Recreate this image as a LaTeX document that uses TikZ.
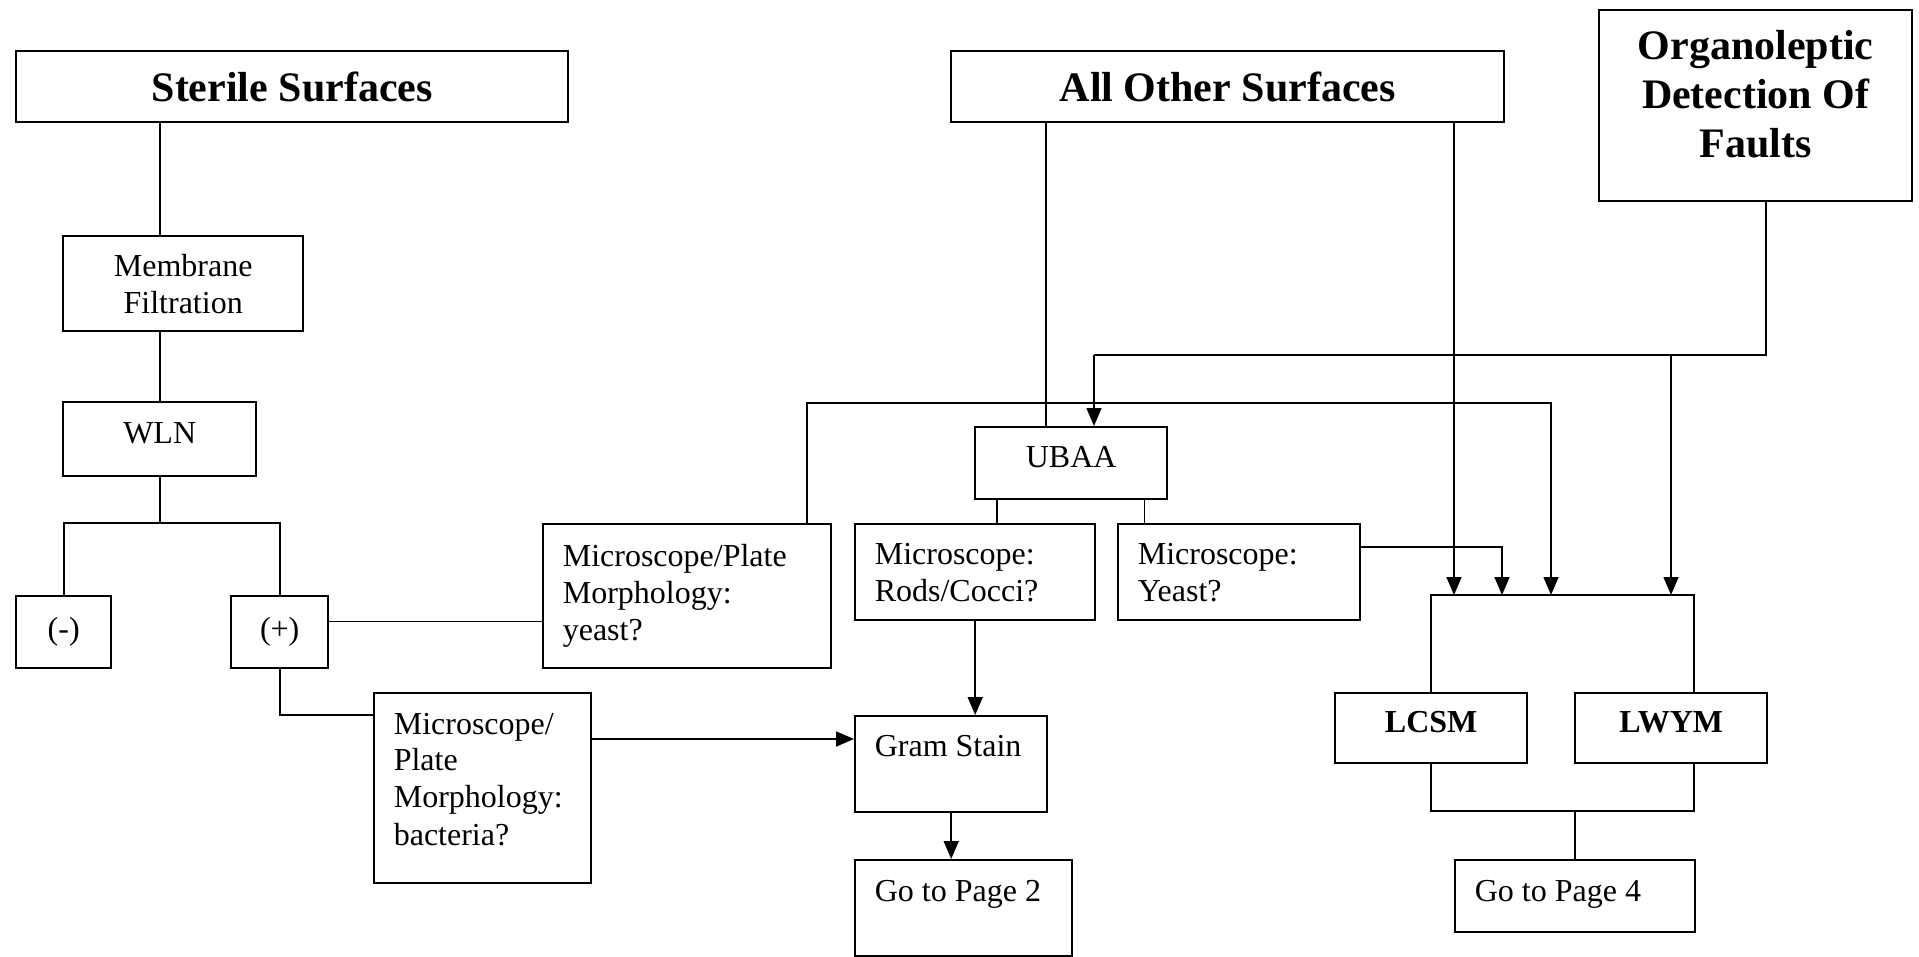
\documentclass[tikz,border=0pt]{standalone}
\usepackage{fontspec}
\setmainfont{Liberation Serif}
\usetikzlibrary{arrows.meta,positioning,calc}

\newcommand{\bodysize}{\fontsize{32}{37}\selectfont}
\newcommand{\headsize}{\fontsize{42}{49}\selectfont\bfseries}

\begin{document}
\begin{tikzpicture}[x=1pt,y=-1pt,line width=1.6pt,>={Triangle[length=18pt,width=15pt]},
	box/.style={rectangle,draw,line width=2.4pt,anchor=north west,inner sep=0pt,font=\bodysize},
	headbox/.style={box,font=\headsize},
	raised/.style={text depth=12pt},
	txt/.style={anchor=north west,align=left,inner xsep=20pt,inner ysep=20pt,font=\bodysize}]
		\useasboundingbox (0,0) rectangle (1919,956);
		\node (sterile) [headbox,minimum width=552pt,minimum height=71pt] at (15,50) {Sterile Surfaces};
		\node (other) [headbox,minimum width=553pt,minimum height=71pt] at (950,50) {All Other Surfaces};
		\node (organo) [box,minimum width=313pt,minimum height=191pt] at (1598,9) {};
		\node (organotext) [anchor=north,align=center,font=\headsize,inner ysep=21pt] at (organo.north) {Organoleptic\\Detection Of\\Faults};
		\node (membrane) [box,align=center,minimum width=240pt,minimum height=95pt] at (62,235) {Membrane\\Filtration};
		\node (wln) [box,raised,minimum width=193pt,minimum height=74pt] at (62,401) {WLN};
		\node (neg) [box,minimum width=95pt,minimum height=72pt] at (15,595) {(-)};
		\node (pos) [box,minimum width=97pt,minimum height=72pt] at (230,595) {(+)};
		\node (ym) [box,minimum width=288pt,minimum height=144pt] at (542,523) {};
		\node (ymtext) [txt] at (ym.north west) {Microscope/Plate\\Morphology:\\yeast?};
		\node (bact) [box,minimum width=217pt,minimum height=190pt] at (373,692) {};
		\node (bacttext) [txt] at (bact.north west) {Microscope/\\Plate\\Morphology:\\bacteria?};
		\node (ubaa) [box,raised,minimum width=192pt,minimum height=72pt] at (974,426) {UBAA};
		\node (rods) [box,minimum width=240pt,minimum height=96pt] at (854,523) {};
		\node (rodstext) [txt] at (rods.north west) {Microscope:\\Rods/Cocci?};
		\node (yeast) [box,minimum width=242pt,minimum height=96pt] at (1117,523) {};
		\node (yeasttext) [txt] at (yeast.north west) {Microscope:\\Yeast?};
		\node (gram) [box,minimum width=192pt,minimum height=96pt] at (854,715) {};
		\node (gramtext) [txt] at (gram.north west) {Gram Stain};
		\node (page2) [box,minimum width=217pt,minimum height=96pt] at (854,859) {};
		\node (page2text) [txt] at (page2.north west) {Go to Page 2};
		\node (lcsm) [box,raised,font=\bodysize\bfseries,minimum width=192pt,minimum height=70pt] at (1334,692) {LCSM};
		\node (lwym) [box,raised,font=\bodysize\bfseries,minimum width=192pt,minimum height=70pt] at (1574,692) {LWYM};
		\node (page4) [box,minimum width=240pt,minimum height=72pt] at (1454,859) {};
		\node (page4text) [txt] at (page4.north west) {Go to Page 4};
		% bends and joins
		\coordinate (gramin) at ([yshift=-24pt]gram.north west);
		\coordinate (ubaaL) at ([xshift=23pt]ubaa.south west);
		\coordinate (ubaaR) at ([xshift=-24pt]ubaa.south east);
		\coordinate (othL) at ([xshift=96pt]other.south west);
		\coordinate (orgL) at (1094,355);
		\coordinate (orgR) at (1766,355);
		\coordinate (orgB) at (1671,355);
		\coordinate (ymup) at (807,403);
		\coordinate (ymR) at (1551,403);
		\coordinate (yqR) at (1502,547);
		\coordinate (jtop) at (0,595);
		\coordinate (jbot) at (0,811);
		\coordinate (jtl) at (lcsm.north |- jtop);
		\coordinate (jtr) at (1694,595);
		\coordinate (jbl) at (lcsm.south |- jbot);
		\coordinate (jbr) at (1694,811);
		% sterile side
		\draw (sterile.south -| wln.north) -- (membrane.north -| wln.north);
		\draw (membrane.south -| wln.north) -- (wln.north);
		\draw (wln.south) -- (wln.south |- ym.north);
		\draw (neg.north) |- (pos.north |- ym.north) -- (pos.north);
		\draw (pos.east |- rods.south) -- (ym.west |- rods.south);
		\draw (pos.south) |- (bact.west |- gram.north);
		\path (bact.east |- gramin) edge[->] (gramin);
		\path (rods.south) edge[->] (rods.south |- gram.north);
		\path (gram.south) edge[->] (gram.south |- page2.north);
		% other surfaces
		\draw (othL) -- (othL |- ubaa.north);
		\draw (ubaaL) -- (ubaaL |- rods.north);
		\draw (ubaaR) -- (ubaaR |- yeast.north);
		\draw [->] (other.south -| page4.west) -- (page4.west |- jtl);
		\draw (organo.south -| orgR) -- (orgR) -- (orgL);
		\draw [->] (orgL) -- (orgL |- ubaa.north);
		\draw [->] (orgB) -- (orgB |- jtl);
		\draw [->] (ym.north -| ymup) -- (ymup) -- (ymR) -- (ymR |- jtl);
		\draw [->] (yeast.east |- yqR) -- (yqR) -- (yqR |- jtl);
		% media boxes
		\draw (lcsm.north) -- (jtl) -- (jtr) -- (jtr |- lwym.north);
		\draw (lcsm.south) -- (jbl) -- (jbr) -- (jbr |- lwym.south);
		\draw (page4.north |- jbl) -- (page4.north);
	\end{tikzpicture}
\end{document}
